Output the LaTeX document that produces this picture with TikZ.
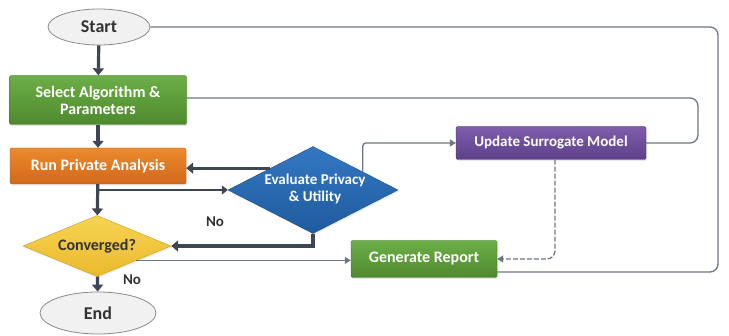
\documentclass[tikz,border=0pt]{standalone}
\usepackage{fontspec}
\setmainfont{Carlito}
\usetikzlibrary{shapes.geometric,arrows.meta,shadows}
\definecolor{grnT}{HTML}{6DAE48}
\definecolor{grnB}{HTML}{4E8A2D}
\definecolor{grnD}{HTML}{3F7424}
\definecolor{orgT}{HTML}{EC8A2E}
\definecolor{orgB}{HTML}{D2691A}
\definecolor{orgD}{HTML}{B35814}
\definecolor{bluT}{HTML}{3478C2}
\definecolor{bluB}{HTML}{1F5A9E}
\definecolor{bluD}{HTML}{1A4C86}
\definecolor{yelT}{HTML}{F7D452}
\definecolor{yelB}{HTML}{EAB92C}
\definecolor{yelD}{HTML}{C99A1E}
\definecolor{purT}{HTML}{7E5DAC}
\definecolor{purB}{HTML}{5E4089}
\definecolor{purD}{HTML}{4C3272}
\definecolor{ellF}{HTML}{F1F1F1}
\definecolor{ellD}{HTML}{8A8A8A}
\definecolor{arrD}{HTML}{3D4654}
\definecolor{thinC}{HTML}{6E7682}
\definecolor{txtD}{HTML}{333333}
\tikzset{
  lbl/.style={font=\fontsize{16}{17}\selectfont\bfseries, align=center},
  boxbase/.style={lbl, rectangle, rounded corners=2pt, text=white, inner sep=0pt, drop shadow={opacity=0.18, shadow xshift=1pt, shadow yshift=-1.5pt}},
  greenbox/.style={boxbase, top color=grnT, bottom color=grnB, draw=grnD},
  orangebox/.style={boxbase, top color=orgT, bottom color=orgB, draw=orgD},
  purplebox/.style={boxbase, top color=purT, bottom color=purB, draw=purD},
  diabase/.style={diamond, inner sep=0pt, drop shadow={opacity=0.15, shadow xshift=1pt, shadow yshift=-1.5pt}},
  bluedia/.style={diabase, top color=bluT, bottom color=bluB, draw=bluD},
  yeldia/.style={diabase, top color=yelT, bottom color=yelB, draw=yelD},
  diatext/.style={lbl, inner sep=0pt},
  term/.style={lbl, font=\fontsize{18}{20}\selectfont\bfseries, ellipse, inner sep=0pt, fill=ellF, draw=ellD, line width=0.8pt, text=txtD},
  thickarrow/.style={line width=3.2pt, draw=arrD, -{Triangle[length=7pt,width=11pt]}},
  midarrow/.style={line width=2pt, draw=arrD, -{Triangle[length=6pt,width=9pt]}},
  thinline/.style={line width=1.3pt, draw=thinC, rounded corners=8pt},
  thinarrow/.style={thinline, -{Triangle[length=6pt,width=7pt]}},
  nolbl/.style={font=\fontsize{15}{16}\selectfont\bfseries, text=txtD}
}
\begin{document}
\begin{tikzpicture}[x=1pt,y=-1pt]
\useasboundingbox (0,0) rectangle (729,336);
\node[term, minimum width=102pt, minimum height=36pt] (start) at (99,27) {Start};
\node[greenbox, minimum width=177pt, minimum height=49pt] (sel) at (98,100) {Select Algorithm \&\\Parameters};
\node[orangebox, minimum width=176pt, minimum height=36pt] (run) at (98,166) {Run Private Analysis};
\node[bluedia, minimum width=170pt, minimum height=87pt] (eval) at (313,190) {};
\node[diatext, text=white, font=\fontsize{15}{17}\selectfont\bfseries] (evaltxt) at (315,189) {Evaluate Privacy\\\& Utility};
\node[yeldia, minimum width=148pt, minimum height=61pt] (conv) at (97,246) {};
\node[diatext, text=txtD] (convtxt) at (97,246) {Converged?};
\node[term, minimum width=116pt, minimum height=42pt] (end) at (98,313) {End};
\node[purplebox, font=\fontsize{15}{17}\selectfont\bfseries, minimum width=190pt, minimum height=33pt] (upd) at (551,143) {Update Surrogate Model};
\node[greenbox, minimum width=146pt, minimum height=37pt] (gen) at (424,259) {Generate Report};
\node[nolbl] (no1) at (215,222) {No};
\node[nolbl] (no2) at (132,280) {No};
\coordinate (r1) at (718,27);
\coordinate (r2) at (718,272);
\coordinate (r3) at (698,98);
% thin connectors
\draw[thinline] (start.east) -- (r1) -- (r2) -- (r2 -| gen.east);
\draw[thinline] (sel.east |- r3) -- (r3) |- (upd.east);
\draw[thinarrow, rounded corners=3pt] (eval.20) |- (upd.west);
\draw[thinarrow] (conv.-20) -- (conv.-20 -| gen.west);
\draw[thinarrow, dashed, dash pattern=on 5pt off 2pt] ([xshift=4pt]upd.south) |- (gen.east);
% thick connectors
\draw[thickarrow] (start) -- (sel);
\draw[thickarrow] (sel) -- (run);
\draw[thickarrow] (run) -- (conv);
\draw[thickarrow] (conv) -- (end);
\draw[midarrow] (run.south |- eval.west) -- (eval.west);
\draw[thickarrow] (eval.north west) -- (eval.north west -| run.east);
\draw[thickarrow] (eval.south) |- (conv.east);
\end{tikzpicture}
\end{document}
